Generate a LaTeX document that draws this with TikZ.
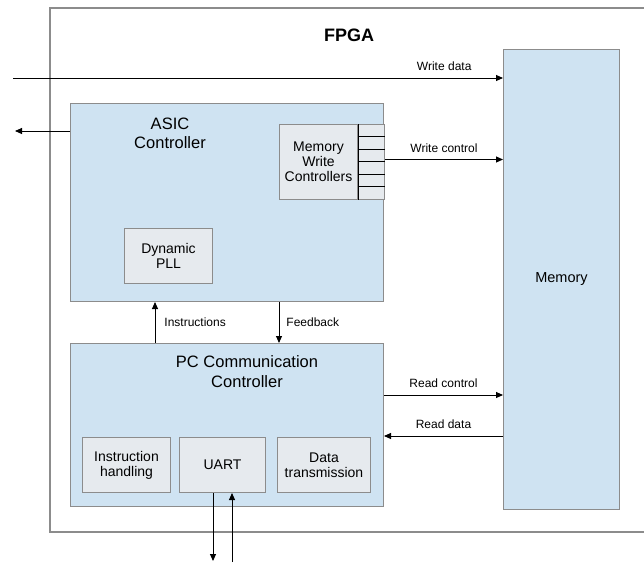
\documentclass[tikz,border=0pt]{standalone}
\usepackage{fontspec}
\setmainfont{Liberation Sans}
\usepackage{xcolor}
\usetikzlibrary{arrows.meta,positioning}

\definecolor{blockblue}{RGB}{207,227,242}
\definecolor{subgray}{RGB}{230,234,238}
\definecolor{edgegray}{RGB}{140,140,140}

\begin{document}
\begin{tikzpicture}[x=1pt,y=-1pt,
  node distance=8pt,
  block/.style={draw=edgegray,fill=blockblue,line width=1pt,anchor=north west,inner sep=0pt},
  subblock/.style={draw=edgegray,fill=subgray,line width=1pt,align=center,inner sep=0pt,
    font=\fontsize{14}{15}\selectfont},
  heading/.style={align=center,font=\fontsize{16.5}{19.5}\selectfont},
  lbl/.style={font=\fontsize{12}{14}\selectfont,inner sep=2pt},
  arr/.style={-{Triangle[length=7pt,width=6pt]},line width=0.9pt}
]
\fill[white] (0,0) rectangle (644,562);
\useasboundingbox (0,0) rectangle (644,562);

% FPGA container, runs off the right edge
\node[draw=edgegray,line width=2pt,anchor=north west,inner sep=0pt,
  minimum width=640pt,minimum height=524pt] (fpga) at (49,7) {};
\node[font=\fontsize{18}{20}\selectfont\bfseries] (fpgatitle) at (349,35) {FPGA};

\node[block,minimum width=116pt,minimum height=460pt,
  font=\fontsize{14.5}{16}\selectfont] (mem) at (503,49) {Memory};

% ASIC controller
\node[block,minimum width=313pt,minimum height=198pt] (asic) at (70,103) {};
\node[heading] (asictitle) at (170,133.5) {ASIC\\Controller};
\node[subblock,anchor=north west,minimum width=78pt,minimum height=75pt] (mwc)
  at (279,124) {Memory\\Write\\Controllers};
\node[subblock,minimum width=26pt,minimum height=75pt,right=0pt of mwc] (mwcports) {};
\draw (mwcports.north west) -- (mwcports.south west);
\foreach \y in {12,25,37,50,62}
  \draw ([yshift=-\y pt]mwcports.north west) -- ([yshift=-\y pt]mwcports.north east);
\node[subblock,anchor=north west,minimum width=88pt,minimum height=55pt] (pll)
  at (124,228) {Dynamic\\PLL};

% PC communication controller
\node[block,minimum width=313pt,minimum height=163pt] (pc) at (70,343) {};
\node[heading] (pctitle) at (247,371.5) {PC Communication\\Controller};
\node[subblock,anchor=north west,minimum width=88pt,minimum height=55pt] (ihand)
  at (82,437) {Instruction\\handling};
\node[subblock,minimum width=86pt,minimum height=55pt,right=of ihand] (uart) {UART};
\node[subblock,minimum width=93pt,minimum height=55pt,right=11pt of uart] (dtx)
  {Data\\transmission};

% loose ends
\coordinate (wdin) at (13,78);
\coordinate (hostout) at (15,131);
\coordinate (uartout) at (213,561);
\coordinate (uartin) at (232,562);
\coordinate (rc) at ([yshift=-52pt]pc.north east);
\coordinate (rd) at ([yshift=-93pt]pc.north east);

\draw[arr] (wdin) -- node[lbl,above=4.5pt,pos=.88]{Write data} (wdin -| mem.west);
\draw[arr] (asic.west |- hostout) -- (hostout);
\draw[arr] ([yshift=2.5pt]mwcports.east) -- node[lbl,above=4.5pt]{Write control}
  ([yshift=2.5pt]mwcports.east -| mem.west);
\draw[arr] ([xshift=85pt]pc.north west) -- node[lbl,right=7pt]{Instructions}
  ([xshift=85pt]asic.south west);
\draw[arr] ([xshift=209pt]asic.south west) -- node[lbl,right=5pt]{Feedback}
  ([xshift=209pt]pc.north west);
\draw[arr] (rc) -- node[lbl,above=4.5pt]{Read control} (rc -| mem.west);
\draw[arr] (rd -| mem.west) -- node[lbl,above=4.5pt]{Read data} (rd);
\draw[arr] (uart.south -| uartout) -- (uartout);
\draw[arr] (uartin) -- (uart.south -| uartin);
\end{tikzpicture}
\end{document}
